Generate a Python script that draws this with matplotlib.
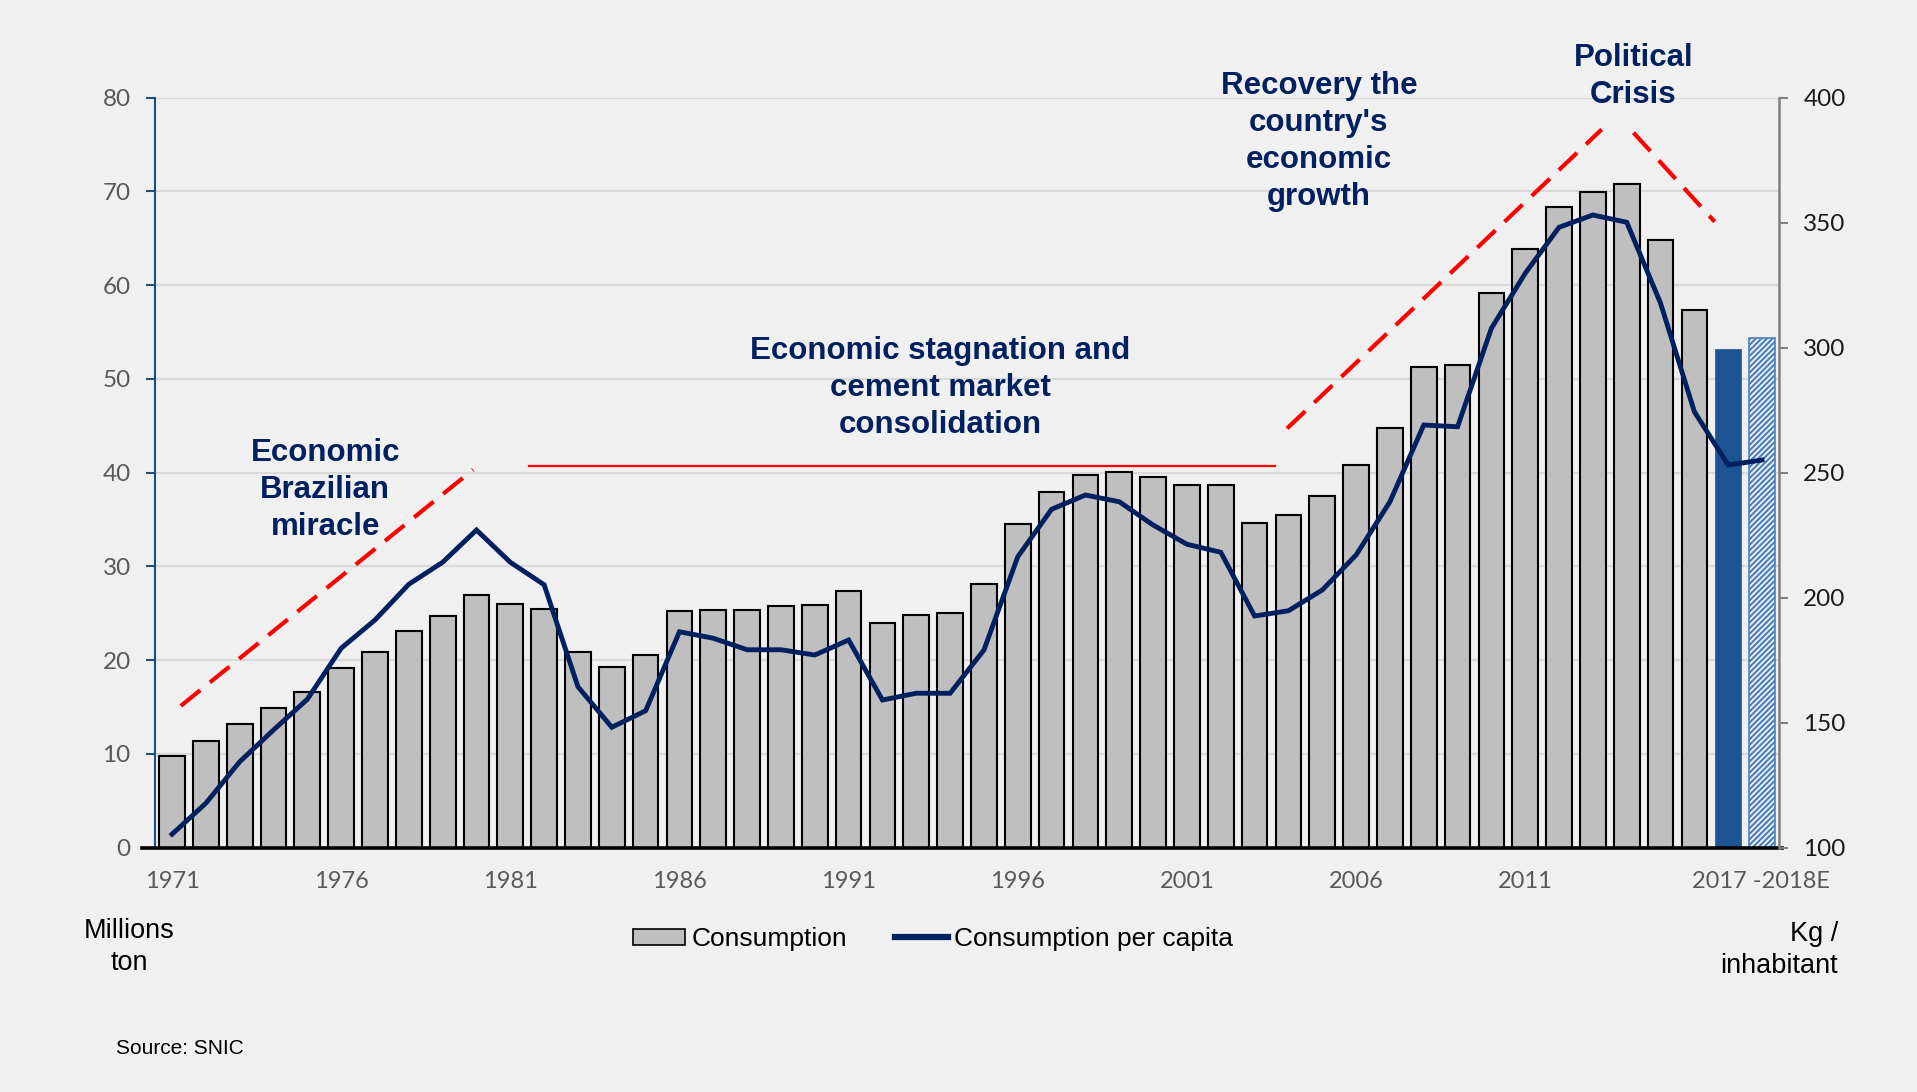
import matplotlib
matplotlib.use("Agg")
import matplotlib.pyplot as plt
from matplotlib.patches import Patch
from matplotlib.lines import Line2D

# data
years = [str(y) for y in range(1971, 2018)] + ["2018E"]
consumption = [9.8, 11.4, 13.2, 14.85, 16.6, 19.1, 20.9, 23.05, 24.7, 26.9,
               26.0, 25.4, 20.85, 19.3, 20.5, 25.2, 25.3, 25.3, 25.8, 25.9,
               27.4, 24.0, 24.8, 25.05, 28.1, 34.5, 37.95, 39.7, 40.05, 39.55,
               38.7, 38.7, 34.65, 35.5, 37.45, 40.8, 44.8, 51.3, 51.5, 59.15,
               63.8, 68.3, 69.9, 70.8, 64.8, 57.3, 53.2, 54.3]
per_capita = [105.3, 117.7, 134.3, 147, 159.3, 179.7, 191, 205.3, 214.1, 227,
              214.1, 205.1, 164.3, 148.1, 154.7, 186.3, 183.7, 179.1, 179.1, 177,
              183, 159, 161.7, 161.7, 179, 216.3, 235.3, 241, 238.3, 229,
              221.3, 218.1, 192.6, 194.7, 203, 217, 238.3, 269, 268.3, 307.7,
              329.7, 348.1, 353, 350.1, 317.7, 274.3, 253, 255]
tick_labels = ["1971", "1976", "1981", "1986", "1991", "1996", "2001", "2006", "2011"]

# trend markers (x in category index, y in millions ton)
miracle_x, miracle_y = [0.26, 8.9], [15.1, 40.3]
stagnation_x, stagnation_y = [10.55, 32.6], [40.7, 40.7]
recovery_x, recovery_y = [32.96, 42.26], [44.7, 76.6]
crisis_x, crisis_y = [43.2, 45.6], [76.25, 66.75]

BG = "#F0F0F0"
NAVY = "#002060"
plt.rcParams["font.family"] = ["Liberation Sans", "DejaVu Sans"]
plt.rcParams["hatch.linewidth"] = 1.6

fig = plt.figure(figsize=(19.17, 10.92), dpi=100, facecolor=BG)
ax = fig.add_axes([0.0809, 0.2239, 0.8471, 0.6868])
ax.set_facecolor(BG)
ax2 = ax.twinx()

x = list(range(len(years)))
n_hist = len(years) - 2
ax.bar(x[:n_hist], consumption[:n_hist], width=0.76, color="#BFBFBF",
       edgecolor="black", linewidth=1.5, zorder=3)
ax.bar(x[n_hist], consumption[n_hist], width=0.76, color="#1D5592",
       edgecolor="#1D5592", linewidth=0.5, zorder=3)
ax.bar(x[n_hist + 1], consumption[n_hist + 1], width=0.76, color="#F7F7F7",
       edgecolor="#4F81BD", hatch="//////", linewidth=1.2, zorder=3)

ax2.plot(x, per_capita, color=NAVY, lw=3.5, zorder=4, solid_joinstyle="miter")

ax.set_xlim(-0.5, len(years) - 0.5)
ax.set_ylim(0, 80)
ax2.set_ylim(100, 400)

ax.set_yticks(range(0, 81, 10))
ax2.set_yticks(range(100, 401, 50))
for v in range(10, 81, 10):
    ax.axhline(v, color="#D9D9D9", lw=1.6, zorder=1)

ax.set_xticks([years.index(t) for t in tick_labels] + [46.97])
ax.set_xticklabels(tick_labels + ["2017 -2018E"])
ax.tick_params(axis="x", length=0, pad=17, labelsize=17, labelcolor="#595959")
for lab in ax.get_xticklabels():
    lab.set_fontfamily("Lato")

ax.tick_params(axis="y", length=6.5, width=1.5, color="#1F4E79", pad=11,
               labelsize=17.5, labelcolor="#595959")
for lab in ax.get_yticklabels():
    lab.set_fontfamily("Lato")
ax2.tick_params(axis="y", length=6.5, width=1.5, color="#808080", pad=11,
                labelsize=17.5, labelcolor="#1A1A1A")
for lab in ax2.get_yticklabels():
    lab.set_fontfamily("Lato")

for a in (ax, ax2):
    a.spines["top"].set_visible(False)
    a.spines["bottom"].set_visible(False)
ax.spines["right"].set_visible(False)
ax2.spines["left"].set_visible(False)
ax.spines["left"].set_color("#1F4E79")
ax.spines["left"].set_linewidth(1.5)
ax2.spines["right"].set_color("#808080")
ax2.spines["right"].set_linewidth(1.8)
ax.axhline(0, xmin=-0.008, xmax=1.002, color="black", lw=2.6, clip_on=False, zorder=5)

# trend lines
dash = (0, (6, 3))
ax.plot(miracle_x, miracle_y, color="red", lw=3, ls=dash, zorder=6, clip_on=False)
ax.plot(stagnation_x, stagnation_y, color="red", lw=1.6, zorder=6)
ax.plot(recovery_x, recovery_y, color="red", lw=3, ls=dash, zorder=6, clip_on=False)
ax.plot(crisis_x, crisis_y, color="red", lw=3, ls=dash, zorder=6, clip_on=False)

note = dict(ha="center", va="center", fontsize=22.5, fontweight="bold",
            color=NAVY, linespacing=1.3, zorder=7, clip_on=False)
ax.text(4.53, 38.1, "Economic\nBrazilian\nmiracle", **note)
ax.text(22.7, 49.0, "Economic stagnation and\ncement market\nconsolidation", **note)
ax.text(33.9, 75.3, "Recovery the\ncountry's\neconomic\ngrowth", **note)
ax.text(43.2, 82.2, "Political\nCrisis", **note)

fig.text(129 / 1917, 1 - 918 / 1092, "Millions\nton", ha="center", va="top",
         fontsize=19.5, linespacing=1.3)
fig.text(1838 / 1917, 1 - 921 / 1092, "Kg /\ninhabitant", ha="right", va="top",
         fontsize=19.5, linespacing=1.3, multialignment="right")
fig.text(116 / 1917, 1 - 1048 / 1092, "Source: SNIC", ha="left", va="center",
         fontsize=15)

handles = [Patch(facecolor="#BFBFBF", edgecolor="black", linewidth=1.2),
           Line2D([0], [0], color=NAVY, lw=4.5)]
fig.legend(handles, ["Consumption", "Consumption per capita"], loc="center",
           bbox_to_anchor=(933 / 1917, 1 - 939 / 1092), ncol=2, frameon=False,
           fontsize=19, handlelength=2.0, handleheight=0.55, handletextpad=0.25,
           columnspacing=1.8)

fig.savefig("out.png", dpi=100, facecolor=BG)
